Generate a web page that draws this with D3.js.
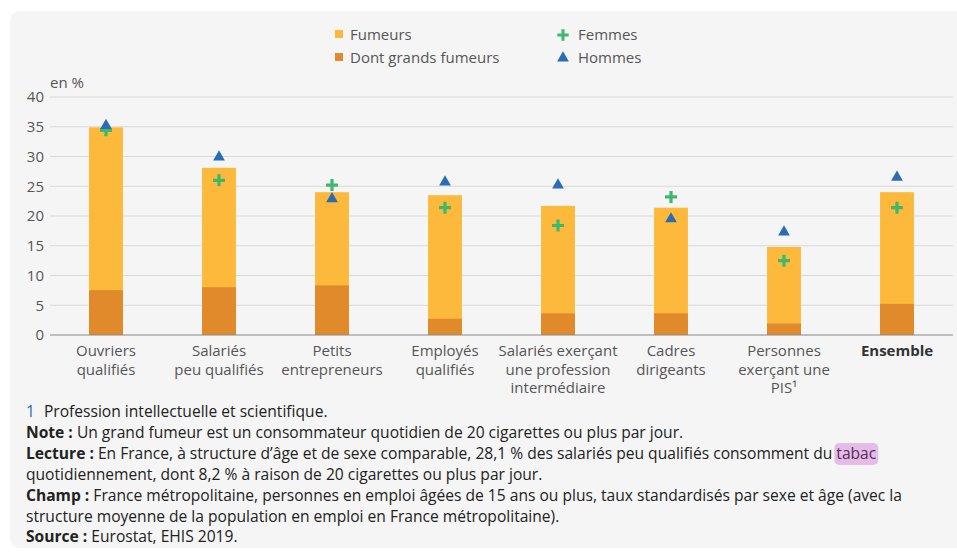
<!DOCTYPE html>
<html>
<head>
<meta charset="utf-8">
<script src="https://cdn.jsdelivr.net/npm/d3@7"></script>
<style>
  body { margin: 0; background: #fff; font-family: "Open Sans", sans-serif; }
  .note { font-size: 15.6px; fill: #222; }
</style>
</head>
<body>
<script>
(function(){

  //chart data
  var categories = [
      ["Ouvriers", "qualifiés"],
      ["Salariés", "peu qualifiés"],
      ["Petits", "entrepreneurs"],
      ["Employés", "qualifiés"],
      ["Salariés exerçant", "une profession", "intermédiaire"],
      ["Cadres", "dirigeants"],
      ["Personnes", "exerçant une", "PIS¹"],
      ["Ensemble"]
  ];
  var fumeurs = [34.9, 28.1, 24.0, 23.5, 21.7, 21.4, 14.8, 24.0];
  var grandsFumeurs = [7.7, 8.2, 8.5, 2.9, 3.8, 3.8, 2.1, 5.4];
  var femmes = [34.4, 26.0, 25.2, 21.4, 18.4, 23.2, 12.5, 21.4];
  var hommes = [35.2, 29.9, 22.9, 25.7, 25.2, 19.5, 17.3, 26.5];
  var yTicks = [0, 5, 10, 15, 20, 25, 30, 35, 40];

  var colFumeurs = "#fdb93b",
      colGrands = "#e08a2b",
      colFemmes = "#3cb96d",
      colHommes = "#2b6cb4";

  var width = 957, height = 554;

  var svg = d3.select("body")
      .append("svg")
      .attr("width", width)
      .attr("height", height);

  //grey panel
  svg.append("rect")
      .attr("x", 10)
      .attr("y", 11)
      .attr("width", 960)
      .attr("height", 537)
      .attr("rx", 10)
      .attr("fill", "#f5f5f5");

  //scales
  var x = d3.scaleBand()
      .domain(d3.range(categories.length))
      .range([49.5, 953.5])
      .paddingInner(0.7)
      .paddingOuter(0.35);

  var y = d3.scaleLinear()
      .domain([0, 40])
      .range([335, 97]);

  //gridlines
  svg.append("g")
      .selectAll("line")
      .data(yTicks.slice(1))
      .enter()
      .append("line")
      .attr("x1", 50)
      .attr("x2", 953)
      .attr("y1", function(d){ return y(d); })
      .attr("y2", function(d){ return y(d); })
      .attr("stroke", "#d9d9d9")
      .attr("stroke-width", 1);

  //y axis
  var yAxis = d3.axisLeft(y)
      .tickValues(yTicks)
      .tickSize(0)
      .tickPadding(6);

  var yg = svg.append("g")
      .attr("transform", "translate(50,0)")
      .call(yAxis);
  yg.select(".domain").remove();
  yg.selectAll(".tick text")
      .attr("font-family", "Open Sans")
      .attr("font-size", 15)
      .attr("fill", "#555");

  svg.append("text")
      .attr("x", 50)
      .attr("y", 88)
      .attr("font-size", 15)
      .attr("fill", "#555")
      .text("en %");

  //bars
  var bw = x.bandwidth();
  var bars = svg.append("g");
  bars.selectAll(".fum")
      .data(fumeurs)
      .enter()
      .append("rect")
      .attr("x", function(d, i){ return x(i); })
      .attr("width", bw)
      .attr("y", function(d){ return y(d); })
      .attr("height", function(d){ return y(0) - y(d); })
      .attr("fill", colFumeurs);

  bars.selectAll(".grand")
      .data(grandsFumeurs)
      .enter()
      .append("rect")
      .attr("x", function(d, i){ return x(i); })
      .attr("width", bw)
      .attr("y", function(d){ return y(d) + 1; })
      .attr("height", function(d){ return y(0) - y(d) - 1; })
      .attr("fill", colGrands);

  //x axis line
  svg.append("line")
      .attr("x1", 50)
      .attr("x2", 953)
      .attr("y1", y(0))
      .attr("y2", y(0))
      .attr("stroke", "#888")
      .attr("stroke-width", 1.2);

  //markers
  var tri = d3.symbol().type(d3.symbolTriangle).size(60);
  var cross = "M-1.6,-6H1.6V-1.6H6V1.6H1.6V6H-1.6V1.6H-6V-1.6H-1.6Z";

  svg.append("g")
      .selectAll("path")
      .data(femmes)
      .enter()
      .append("path")
      .attr("d", cross)
      .attr("transform", function(d, i){
          return "translate(" + (x(i) + bw / 2) + "," + y(d) + ")";
      })
      .attr("fill", colFemmes);

  svg.append("g")
      .selectAll("path")
      .data(hommes)
      .enter()
      .append("path")
      .attr("d", tri)
      .attr("transform", function(d, i){
          return "translate(" + (x(i) + bw / 2) + "," + y(d) + ")";
      })
      .attr("fill", colHommes);

  //category labels
  var labels = svg.append("g");
  categories.forEach(function(lines, i){
      var t = labels.append("text")
          .attr("text-anchor", "middle")
          .attr("font-size", 15)
          .attr("fill", i == categories.length - 1 ? "#333" : "#555")
          .attr("font-weight", i == categories.length - 1 ? "bold" : "normal");
      lines.forEach(function(l, j){
          t.append("tspan")
              .attr("x", x(i) + bw / 2)
              .attr("y", 356 + j * 18.5)
              .text(l);
      });
  });

  //legend
  var legend = svg.append("g").attr("font-size", 15).attr("fill", "#555");
  legend.append("rect").attr("x", 335).attr("y", 30).attr("width", 8).attr("height", 8).attr("fill", colFumeurs);
  legend.append("text").attr("x", 350).attr("y", 40).text("Fumeurs");
  legend.append("rect").attr("x", 335).attr("y", 53).attr("width", 8).attr("height", 8).attr("fill", colGrands);
  legend.append("text").attr("x", 350).attr("y", 63).text("Dont grands fumeurs");
  legend.append("path").attr("d", cross).attr("transform", "translate(563,35) scale(0.95)").attr("fill", colFemmes);
  legend.append("text").attr("x", 578).attr("y", 40).text("Femmes");
  legend.append("path").attr("d", tri).attr("transform", "translate(563,58)").attr("fill", colHommes);
  legend.append("text").attr("x", 578).attr("y", 63).text("Hommes");

  //footnotes
  var notes = svg.append("g").attr("class", "note");
  var lineY = [417, 438, 459, 480, 501, 522, 542];

  var n0 = notes.append("text").attr("x", 26).attr("y", lineY[0]).attr("class", "note");
  n0.append("tspan").attr("fill", "#2b6cb4").text("1");
  n0.append("tspan").attr("dx", 9).text("Profession intellectuelle et scientifique.");

  function noteLine(yy, bold, rest){
      var t = notes.append("text").attr("x", 26).attr("y", yy).attr("class", "note");
      if (bold) t.append("tspan").attr("font-weight", "bold").text(bold);
      t.append("tspan").text(rest);
      return t;
  }

  noteLine(lineY[1], "Note : ", "Un grand fumeur est un consommateur quotidien de 20 cigarettes ou plus par jour.");

  //highlight behind "tabac"
  var hl = notes.append("rect")
      .attr("y", lineY[2] - 16)
      .attr("height", 22)
      .attr("rx", 5)
      .attr("fill", "#e3bde6");
  var lec = noteLine(lineY[2], "Lecture : ", "En France, à structure d’âge et de sexe comparable, 28,1 % des salariés peu qualifiés consomment du ");
  var tab = lec.append("tspan").attr("fill", "#5a2a5e").text("tabac");
  var bb = tab.node().getComputedTextLength();
  var full = lec.node().getComputedTextLength();
  hl.attr("x", 26 + full - bb - 2).attr("width", bb + 4);

  noteLine(lineY[3], null, "quotidiennement, dont 8,2 % à raison de 20 cigarettes ou plus par jour.");
  noteLine(lineY[4], "Champ : ", "France métropolitaine, personnes en emploi âgées de 15 ans ou plus, taux standardisés par sexe et âge (avec la");
  noteLine(lineY[5], null, "structure moyenne de la population en emploi en France métropolitaine).");
  noteLine(lineY[6], "Source : ", "Eurostat, EHIS 2019.");

})();
</script>
</body>
</html>
